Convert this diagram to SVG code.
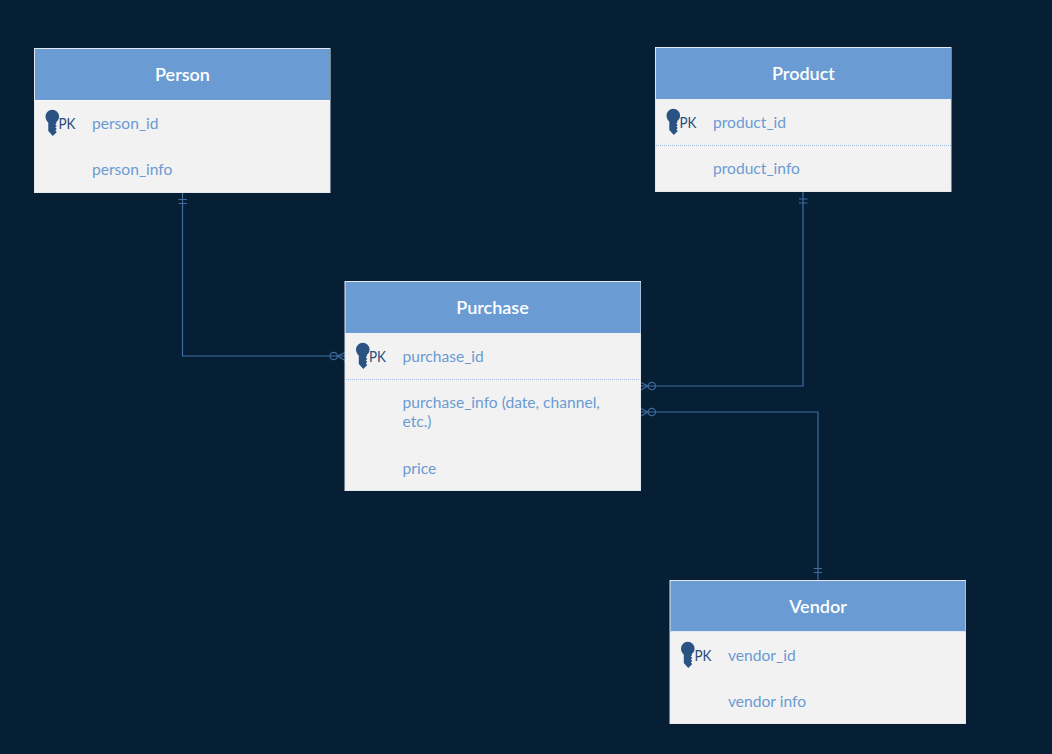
<svg xmlns="http://www.w3.org/2000/svg" width="1052" height="754" viewBox="0 0 1052 754">
<style>
.box{fill:#f2f2f2;stroke:#e4e8ee;stroke-width:1}
.head{fill:#6a9bd3}
.hl{stroke:#dfe9f5;stroke-width:1}
.sep{stroke:#9dbde2;stroke-width:1;stroke-dasharray:1 1}
.title{font:600 18px Lato,"Liberation Sans",sans-serif;fill:#fff;text-anchor:middle}
.f{font:15.600px Lato,"Liberation Sans",sans-serif;fill:#6a9bd3}
.pk{font:14.500px Lato,"Liberation Sans",sans-serif;fill:#264e7c}
.c{fill:none;stroke:#3f6d9f;stroke-width:1.200}
.key{fill:#2a5283}
</style>
<defs>
<path id="key" class="key" d="M-6.800,-4.500 A6.800,6.800 0 1 1 6.800,-4.500 C6.800,-2 5.500,0 4,1 L4,2.500 L3,3.500 L4.500,5 L3,6.500 L4.500,8 L3,9.500 L4.500,11 L0.500,15 L-4,10 L-4,1.500 C-5.500,0.500 -6.800,-2 -6.800,-4.500 Z"/>
</defs>
<rect width="1052" height="754" fill="#071f35"/>
<g id="connectors">
<path class="c" d="M182.500,193 V356 H345"/>
<path class="c" d="M178.500,199.500 H187 M178.500,203.500 H187"/>
<circle class="c" cx="333.700" cy="356" r="3.700" fill="#071f35"/>
<path class="c" d="M337.500,356 L345,352.500 M337.500,356 L345,360.500"/>
<path class="c" d="M640,386 H803 V192"/>
<path class="c" d="M799,199 H807.500 M799,203 H807.500"/>
<circle class="c" cx="651.800" cy="386" r="3.700" fill="#071f35"/>
<path class="c" d="M648,386 L641,382.500 M648,386 L641,390"/>
<path class="c" d="M640,412 H818 V580"/>
<path class="c" d="M813.700,568.500 H822 M813.700,572.500 H822"/>
<circle class="c" cx="651.800" cy="412" r="3.700" fill="#071f35"/>
<path class="c" d="M648,412 L641,408.500 M648,412 L641,416"/>
</g>
<g id="person">
<rect class="box" x="34.500" y="48.500" width="295.500" height="144"/>
<rect class="head" x="35" y="49" width="295" height="51"/>
<path class="sep" d="M35,100.500 H330" style="stroke:#fff"/>
<text class="title" x="182.500" y="81">Person</text>
<use href="#key" x="52.300" y="121"/>
<text class="pk" x="58.500" y="129" textLength="17" lengthAdjust="spacingAndGlyphs">PK</text>
<text class="f" x="92" y="129">person_id</text>
<text class="f" x="92" y="175">person_info</text>
</g>
<g id="product">
<rect class="box" x="655.500" y="47.500" width="295.500" height="144"/>
<rect class="head" x="656" y="48" width="295" height="51"/>
<text class="title" x="803.500" y="80">Product</text>
<use href="#key" x="673.300" y="120"/>
<text class="pk" x="679.500" y="128" textLength="17" lengthAdjust="spacingAndGlyphs">PK</text>
<text class="f" x="713" y="128">product_id</text>
<path class="sep" d="M656,145.500 H951"/>
<text class="f" x="713" y="174">product_info</text>
</g>
<g id="purchase">
<rect class="box" x="345" y="281.500" width="295.500" height="209"/>
<rect class="head" x="345.500" y="282" width="295" height="51"/>
<text class="title" x="492.500" y="314">Purchase</text>
<use href="#key" x="362.800" y="354"/>
<text class="pk" x="369" y="362" textLength="17" lengthAdjust="spacingAndGlyphs">PK</text>
<text class="f" x="402.500" y="362">purchase_id</text>
<path class="sep" d="M346,379.500 H640"/>
<text class="f" x="402.500" y="408">purchase_info (date, channel,</text>
<text class="f" x="402.500" y="427">etc.)</text>
<text class="f" x="402.500" y="474">price</text>
</g>
<g id="vendor">
<rect class="box" x="670" y="580.500" width="295.500" height="143"/>
<rect class="head" x="670.500" y="581" width="295" height="51"/>
<path class="hl" d="M671,631.500 H965"/>
<text class="title" x="818" y="613">Vendor</text>
<use href="#key" x="687.800" y="653"/>
<text class="pk" x="694.500" y="661" textLength="17" lengthAdjust="spacingAndGlyphs">PK</text>
<text class="f" x="728" y="661">vendor_id</text>
<text class="f" x="728" y="707">vendor info</text>
</g>
</svg>
